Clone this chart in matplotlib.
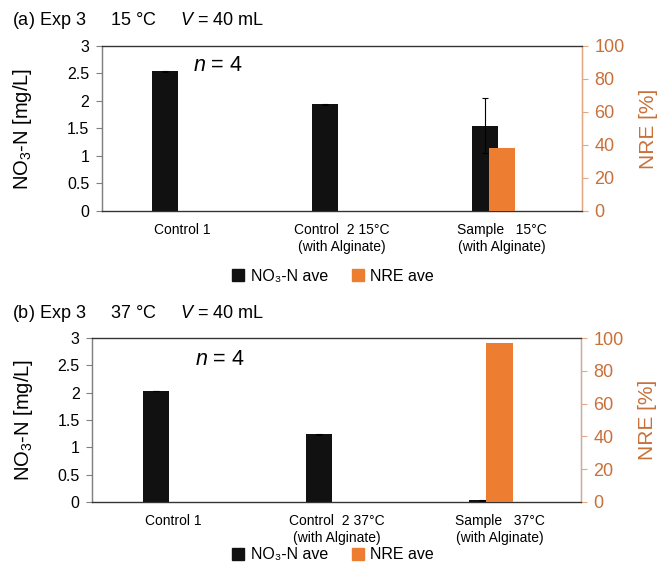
import numpy as np
import matplotlib
matplotlib.use("Agg")
import matplotlib.pyplot as plt
from matplotlib.patches import Patch

plt.rcParams['font.family'] = ['Liberation Sans', 'DejaVu Sans']
plt.rcParams['mathtext.fontset'] = 'custom'
plt.rcParams['mathtext.rm'] = 'Liberation Sans'
plt.rcParams['mathtext.it'] = 'Liberation Sans:italic'

# data
labels_a = ['Control 1', 'Control  2 15°C\n(with Alginate)', 'Sample   15°C\n(with Alginate)']
labels_b = ['Control 1', 'Control  2 37°C\n(with Alginate)', 'Sample   37°C\n(with Alginate)']
no3_a = [2.54, 1.94, 1.55]
no3_err_a = [0.01, 0.01, 0.50]
nre_a = [0, 0, 38]
no3_b = [2.03, 1.24, 0.03]
no3_err_b = [0.005, 0.01, 0.005]
nre_b = [0, 0, 97]

orange = '#ED7D31'
orange_txt = '#C8703A'
orange_spine = '#E3A882'

fig = plt.figure(figsize=(6.6, 5.79), dpi=100)


def panel(rect, labels, no3, err, nre, title, title_y, n_pos, ylab_x):
    ax = fig.add_axes(rect)
    ax2 = ax.twinx()
    x = np.arange(len(labels))
    w = 0.1625
    ax.bar(x - 0.106, no3, w, color='#111111', yerr=err,
           error_kw=dict(ecolor='black', elinewidth=0.8, capsize=2, capthick=0.8), zorder=2)
    ax2.bar(x, nre, w, color=orange, zorder=3)
    ax.set_xlim(-0.5, 2.5)
    ax.set_ylim(0, 3)
    ax.set_yticks([0, 0.5, 1, 1.5, 2, 2.5, 3])
    ax.set_yticklabels(['0', '0.5', '1', '1.5', '2', '2.5', '3'])
    ax2.set_ylim(0, 100)
    ax2.set_yticks(range(0, 101, 20))
    ax.set_xticks(x)
    ax.set_xticklabels(labels, fontsize=10, linespacing=1.25)
    ax.tick_params(axis='x', length=0, pad=9)
    ax.tick_params(axis='y', length=4, color='#808080', labelsize=11.5, pad=5)
    ax2.tick_params(axis='y', length=4, color=orange_spine, labelsize=13,
                    labelcolor=orange_txt, pad=5)
    ax2.spines['left'].set_color('#808080')
    ax2.spines['right'].set_color(orange_spine)
    ax2.spines['top'].set_color('#333333')
    ax2.spines['bottom'].set_color('#333333')
    for sp in ax2.spines.values():
        sp.set_linewidth(0.9)
    ax.set_ylabel('NO$_3$-N [mg/L]', fontsize=14.5)
    ax.yaxis.set_label_coords(ylab_x, 0.5)
    ax2.set_ylabel('NRE [%]', fontsize=15, color=orange_txt, labelpad=10)
    ax.text(n_pos[0], n_pos[1], '$n$ = 4', transform=ax.transAxes,
            fontsize=15.5, va='center')
    fig.text(0.018, title_y, title, fontsize=13, va='center')
    return ax


panel([0.1545, 0.6356, 0.7273, 0.2850], labels_a, no3_a, no3_err_a, nre_a,
      '(a) Exp 3     15 °C     $V$ = 40 mL', 0.965, (0.19, 0.88), -0.142)
panel([0.1394, 0.1330, 0.7409, 0.2832], labels_b, no3_b, no3_err_b, nre_b,
      '(b) Exp 3     37 °C     $V$ = 40 mL', 0.459, (0.21, 0.866), -0.117)

handles = [Patch(color='#111111', label='NO₃-N ave'), Patch(color=orange, label='NRE ave')]
for ly in [0.523, 0.0415]:
    fig.legend(handles=handles, loc='center', bbox_to_anchor=(0.505, ly), ncol=2,
               frameon=False, fontsize=11.5, handlelength=0.75, handleheight=0.75,
               handletextpad=0.4, columnspacing=1.5)

fig.savefig('out.png', dpi=100)
